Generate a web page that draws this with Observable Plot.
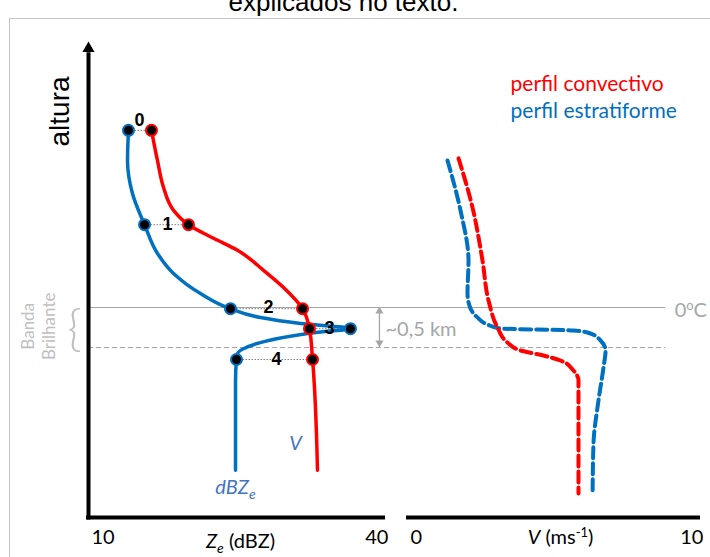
<!DOCTYPE html>
<html><head><meta charset="utf-8">
<script src="https://cdn.jsdelivr.net/npm/d3@7"></script>
<script src="https://cdn.jsdelivr.net/npm/@observablehq/plot@0.6"></script>
<style>
html,body{margin:0;padding:0;background:#fff;overflow:hidden;}
#wrap{position:relative;width:710px;height:557px;overflow:hidden;background:#fff;}
#wrap svg{position:absolute;left:0;top:0;}
#frame{position:absolute;left:9px;top:18px;width:760px;height:620px;border:1.5px solid #c4c4c4;}
</style></head><body>
<div id="wrap"><div id="frame"></div></div>
<script>
// ---------------- DATA ----------------
// level labels and the dots at each level (Ze in dBZ, altitude in km)
const levelNames = ["0", "1", "2", "3", "4"];
const levelAlt = [4.84, 3.66, 2.61, 2.36, 1.975];
const convZeDots = [16.36, 20.10, 31.62, 32.32, 32.63];
const stratZeDots = [14.04, 15.66, 24.34, 36.46, 24.95];
const levelLabelZe = [15.15, 17.98, 28.18, 34.34, 28.99];
const levelLabelAlt = [4.96, 3.66, 2.625, 2.36, 1.975];

// reflectivity profiles (dBZ) vs altitude (km)
const convZe = [16.36, 16.97, 17.58, 18.59, 20.10, 22.63, 25.05, 27.68, 29.70, 31.62, 32.32, 32.63, 33.13];
const convZeAlt = [4.84, 4.46, 4.125, 3.84, 3.66, 3.49, 3.34, 3.09, 2.875, 2.61, 2.36, 1.975, 0.59];
const stratZe = [14.04, 13.94, 14.44, 15.66, 16.97, 18.59, 21.31, 24.34, 27.37, 31.41, 36.46, 33.43, 25.66, 25.05, 24.95, 24.85, 24.85];
const stratZeAlt = [4.84, 4.46, 4.05, 3.66, 3.30, 3.05, 2.80, 2.61, 2.50, 2.425, 2.36, 2.32, 2.11, 2.05, 1.975, 1.71, 0.59];

// fall-velocity profiles (m/s) vs altitude (km)
const convV = [1.77, 2.245, 2.585, 2.79, 3.095, 3.435, 3.88, 4.66, 5.24, 5.68, 5.85, 5.85];
const convVAlt = [4.49, 3.875, 3.2125, 2.7125, 2.375, 2.1875, 2.0875, 2.025, 1.9625, 1.8375, 1.7125, 0.3];
const stratV = [1.395, 1.837, 2.109, 2.075, 2.177, 2.415, 2.755, 3.197, 5.68, 6.26, 6.6, 6.77, 6.70, 6.53, 6.36, 6.33];
const stratVAlt = [4.4625, 3.8375, 3.2125, 2.8, 2.6125, 2.5, 2.4125, 2.3625, 2.3375, 2.3, 2.2125, 2.0875, 1.875, 1.4625, 0.925, 0.3];

// bright band (km)
const meltTop = 2.625;     // 0 °C level
const meltBottom = 2.125;  // ~0,5 km below

// tick labels
const zeTicks = ["10", "40"];
const vTicks = ["0", "10"];
const zeTickValues = [10, 40];
const vTickValues = [0, 10];

// texts
const titleText = "explicados no texto.";
const legendLabels = ["perfil convectivo", "perfil estratiforme"];

// ---------------- STYLE ----------------
const W = 710, H = 557;
const yDomain = [0, 5.9375];
const red = "#ff0000", blue = "#0070c0", labelBlue = "#4472c4", grey = "#a6a6a6", lightGrey = "#bfbfbf";
const calibri = "Lato, 'Open Sans', sans-serif";
const arial = "'Liberation Sans', Arial, sans-serif";
const common = {width: W, height: H, marginTop: 42, marginBottom: 40,
  style: {background: "transparent", overflow: "visible"}};

const pts = (xs, ys) => xs.map((x, i) => ({x, y: ys[i]}));
const idx = levelNames.map((d, i) => i);
const tickY = -0.245;

// ---------------- LEFT PANEL (Ze) ----------------
const plotA = Plot.plot({
  ...common, marginLeft: 88, marginRight: 325,
  x: {domain: [10, 40], axis: null},
  y: {domain: yDomain, axis: null},
  marks: [
    // 0 °C line and bottom of bright band (extend across both panels)
    Plot.ruleY([meltTop], {x1: 10, x2: 68.3, stroke: grey, strokeWidth: 1.2}),
    Plot.ruleY([meltBottom], {x1: 10, x2: 68.3, stroke: grey, strokeWidth: 1, strokeDasharray: "5,3"}),
    // axes
    Plot.ruleX([10], {y1: -0.03, y2: 5.81, stroke: "black", strokeWidth: 4}),
    Plot.dot([10], {x: d => d, y: 5.864, symbol: "triangle", r: 4.5, fill: "black"}),
    Plot.ruleY([0], {x1: 9.8, x2: 40, stroke: "black", strokeWidth: 4}),
    // connectors between levels
    Plot.link(idx, {x1: i => stratZeDots[i], x2: i => convZeDots[i], y1: i => levelAlt[i], y2: i => levelAlt[i],
      stroke: "#808080", strokeWidth: 1, strokeDasharray: "1.5,1.5"}),
    // profiles
    Plot.line(pts(stratZe, stratZeAlt), {x: "x", y: "y", stroke: blue, strokeWidth: 3.5, curve: "monotone-y"}),
    Plot.line(pts(convZe, convZeAlt), {x: "x", y: "y", stroke: red, strokeWidth: 3.5, curve: "monotone-y"}),
    Plot.dot(idx, {x: i => stratZeDots[i], y: i => levelAlt[i], r: 5.5, fill: "black", stroke: blue, strokeWidth: 2}),
    Plot.dot(idx, {x: i => convZeDots[i], y: i => levelAlt[i], r: 5.5, fill: "black", stroke: red, strokeWidth: 2}),
    Plot.text(idx, {x: i => levelLabelZe[i], y: i => levelLabelAlt[i], text: i => levelNames[i],
      fontSize: 18, fontWeight: "bold", fontFamily: arial, fill: "black"}),
    // profile labels
    Plot.text(["V"], {x: 30.91, y: 0.925, text: d => d, fontSize: 20, fontStyle: "italic", fontFamily: calibri, fill: labelBlue}),
    Plot.text(["dBZ_e"], {x: 24.85, y: 0.375, text: d => d, fontSize: 20, fontStyle: "italic", fontFamily: calibri, fill: labelBlue}),
    // bright band annotations
    Plot.ruleX([39.39], {y1: 2.17, y2: 2.58, stroke: grey, strokeWidth: 1.3}),
    Plot.dot([39.39], {x: d => d, y: 2.58, symbol: "triangle", r: 3, fill: grey}),
    Plot.dot([39.39], {x: d => d, y: 2.1825, symbol: "triangle", rotate: 180, r: 3, fill: grey}),
    Plot.text(["~0,5 km"], {x: 40.0, y: 2.35, text: d => d, textAnchor: "start", fontSize: 20, fontFamily: calibri, fill: grey}),
    Plot.text(["{"], {x: 8.59, y: 2.36, text: d => d, fontSize: 50, fontWeight: 300, fontFamily: calibri, fill: lightGrey}),
    Plot.text(["Banda"], {x: 3.94, y: 2.39, text: d => d, rotate: -90, fontSize: 17, fontFamily: calibri, fill: lightGrey}),
    Plot.text(["Brilhante"], {x: 6.1, y: 2.39, text: d => d, rotate: -90, fontSize: 17, fontFamily: calibri, fill: lightGrey}),
    // y label
    Plot.text(["altura"], {x: 7.17, y: 5.075, text: d => d, rotate: -90, fontSize: 28, fontFamily: arial, fill: "black"}),
    // x tick labels and axis label
    Plot.text([0], {x: i => zeTickValues[i] + 0.3, y: tickY, text: i => zeTicks[i],
      textAnchor: "start", fontSize: 20, fontFamily: calibri, fill: "black"}),
    Plot.text([1], {x: i => zeTickValues[i] + 0.3, y: tickY, text: i => zeTicks[i],
      textAnchor: "end", fontSize: 20, fontFamily: calibri, fill: "black"}),
    Plot.text(["Z_e (dBZ)"], {x: 25.35, y: -0.307, text: d => d, fontSize: 20, fontFamily: calibri, fill: "black"}),
    // title (cut off at the top)
    Plot.text([titleText], {x: 35.76, y: 6.43, text: d => d, fontSize: 26, fontFamily: arial, fill: "black"})
  ]
});

// ---------------- RIGHT PANEL (V) ----------------
const plotB = Plot.plot({
  ...common, marginLeft: 406, marginRight: 10,
  x: {domain: [0, 10], axis: null},
  y: {domain: yDomain, axis: null},
  marks: [
    Plot.ruleY([0], {x1: 0, x2: 10, stroke: "black", strokeWidth: 4}),
    Plot.line(pts(stratV, stratVAlt), {x: "x", y: "y", stroke: blue, strokeWidth: 4, strokeDasharray: "11,5", curve: "monotone-y"}),
    Plot.line(pts(convV, convVAlt), {x: "x", y: "y", stroke: red, strokeWidth: 4, strokeDasharray: "11,5", curve: "monotone-y"}),
    Plot.text(["0^oC"], {x: 9.12, y: 2.59, text: d => d, textAnchor: "start", fontSize: 20, fontFamily: calibri, fill: grey}),
    Plot.text(legendLabels, {x: 3.54, y: (d, i) => [5.42, 5.084][i], text: d => d, textAnchor: "start",
      fontSize: 21, fontFamily: calibri, fill: (d, i) => [red, blue][i]}),
    Plot.text([0], {x: i => vTickValues[i] + 0.14, y: tickY, text: i => vTicks[i],
      textAnchor: "start", fontSize: 20, fontFamily: calibri, fill: "black"}),
    Plot.text([1], {x: i => vTickValues[i] + 0.1, y: tickY, text: i => vTicks[i],
      textAnchor: "end", fontSize: 20, fontFamily: calibri, fill: "black"}),
    Plot.text(["V (ms^-1)"], {x: 5.24, y: tickY, text: d => d, fontSize: 20, fontFamily: calibri, fill: "black"})
  ]
});

// ---------------- rich text (sub/superscripts) ----------------
const RICH = {
  "Z_e (dBZ)": [{t: "Z", italic: true}, {t: "e", italic: true, size: "14px", dy: "5"}, {t: " (dBZ)", dy: "-5"}],
  "dBZ_e": [{t: "dBZ"}, {t: "e", size: "14px", dy: "5"}],
  "V (ms^-1)": [{t: "V", italic: true}, {t: " (ms"}, {t: "-1", size: "13px", dy: "-7"}, {t: ")", dy: "7"}],
  "0^oC": [{t: "0"}, {t: "o", size: "13px", dy: "-7"}, {t: "C", dy: "7"}]
};
function richify(svg) {
  d3.select(svg).selectAll("text").each(function() {
    const parts = RICH[this.textContent];
    if (!parts) return;
    while (this.firstChild) this.removeChild(this.firstChild);
    for (const p of parts) {
      const ts = document.createElementNS("http://www.w3.org/2000/svg", "tspan");
      ts.textContent = p.t;
      if (p.italic) ts.setAttribute("font-style", "italic");
      if (p.size) ts.setAttribute("font-size", p.size);
      if (p.dy) ts.setAttribute("dy", p.dy);
      this.appendChild(ts);
    }
  });
}
richify(plotA); richify(plotB);
const wrap = document.getElementById("wrap");
wrap.appendChild(plotA);
wrap.appendChild(plotB);
</script>
</body></html>
